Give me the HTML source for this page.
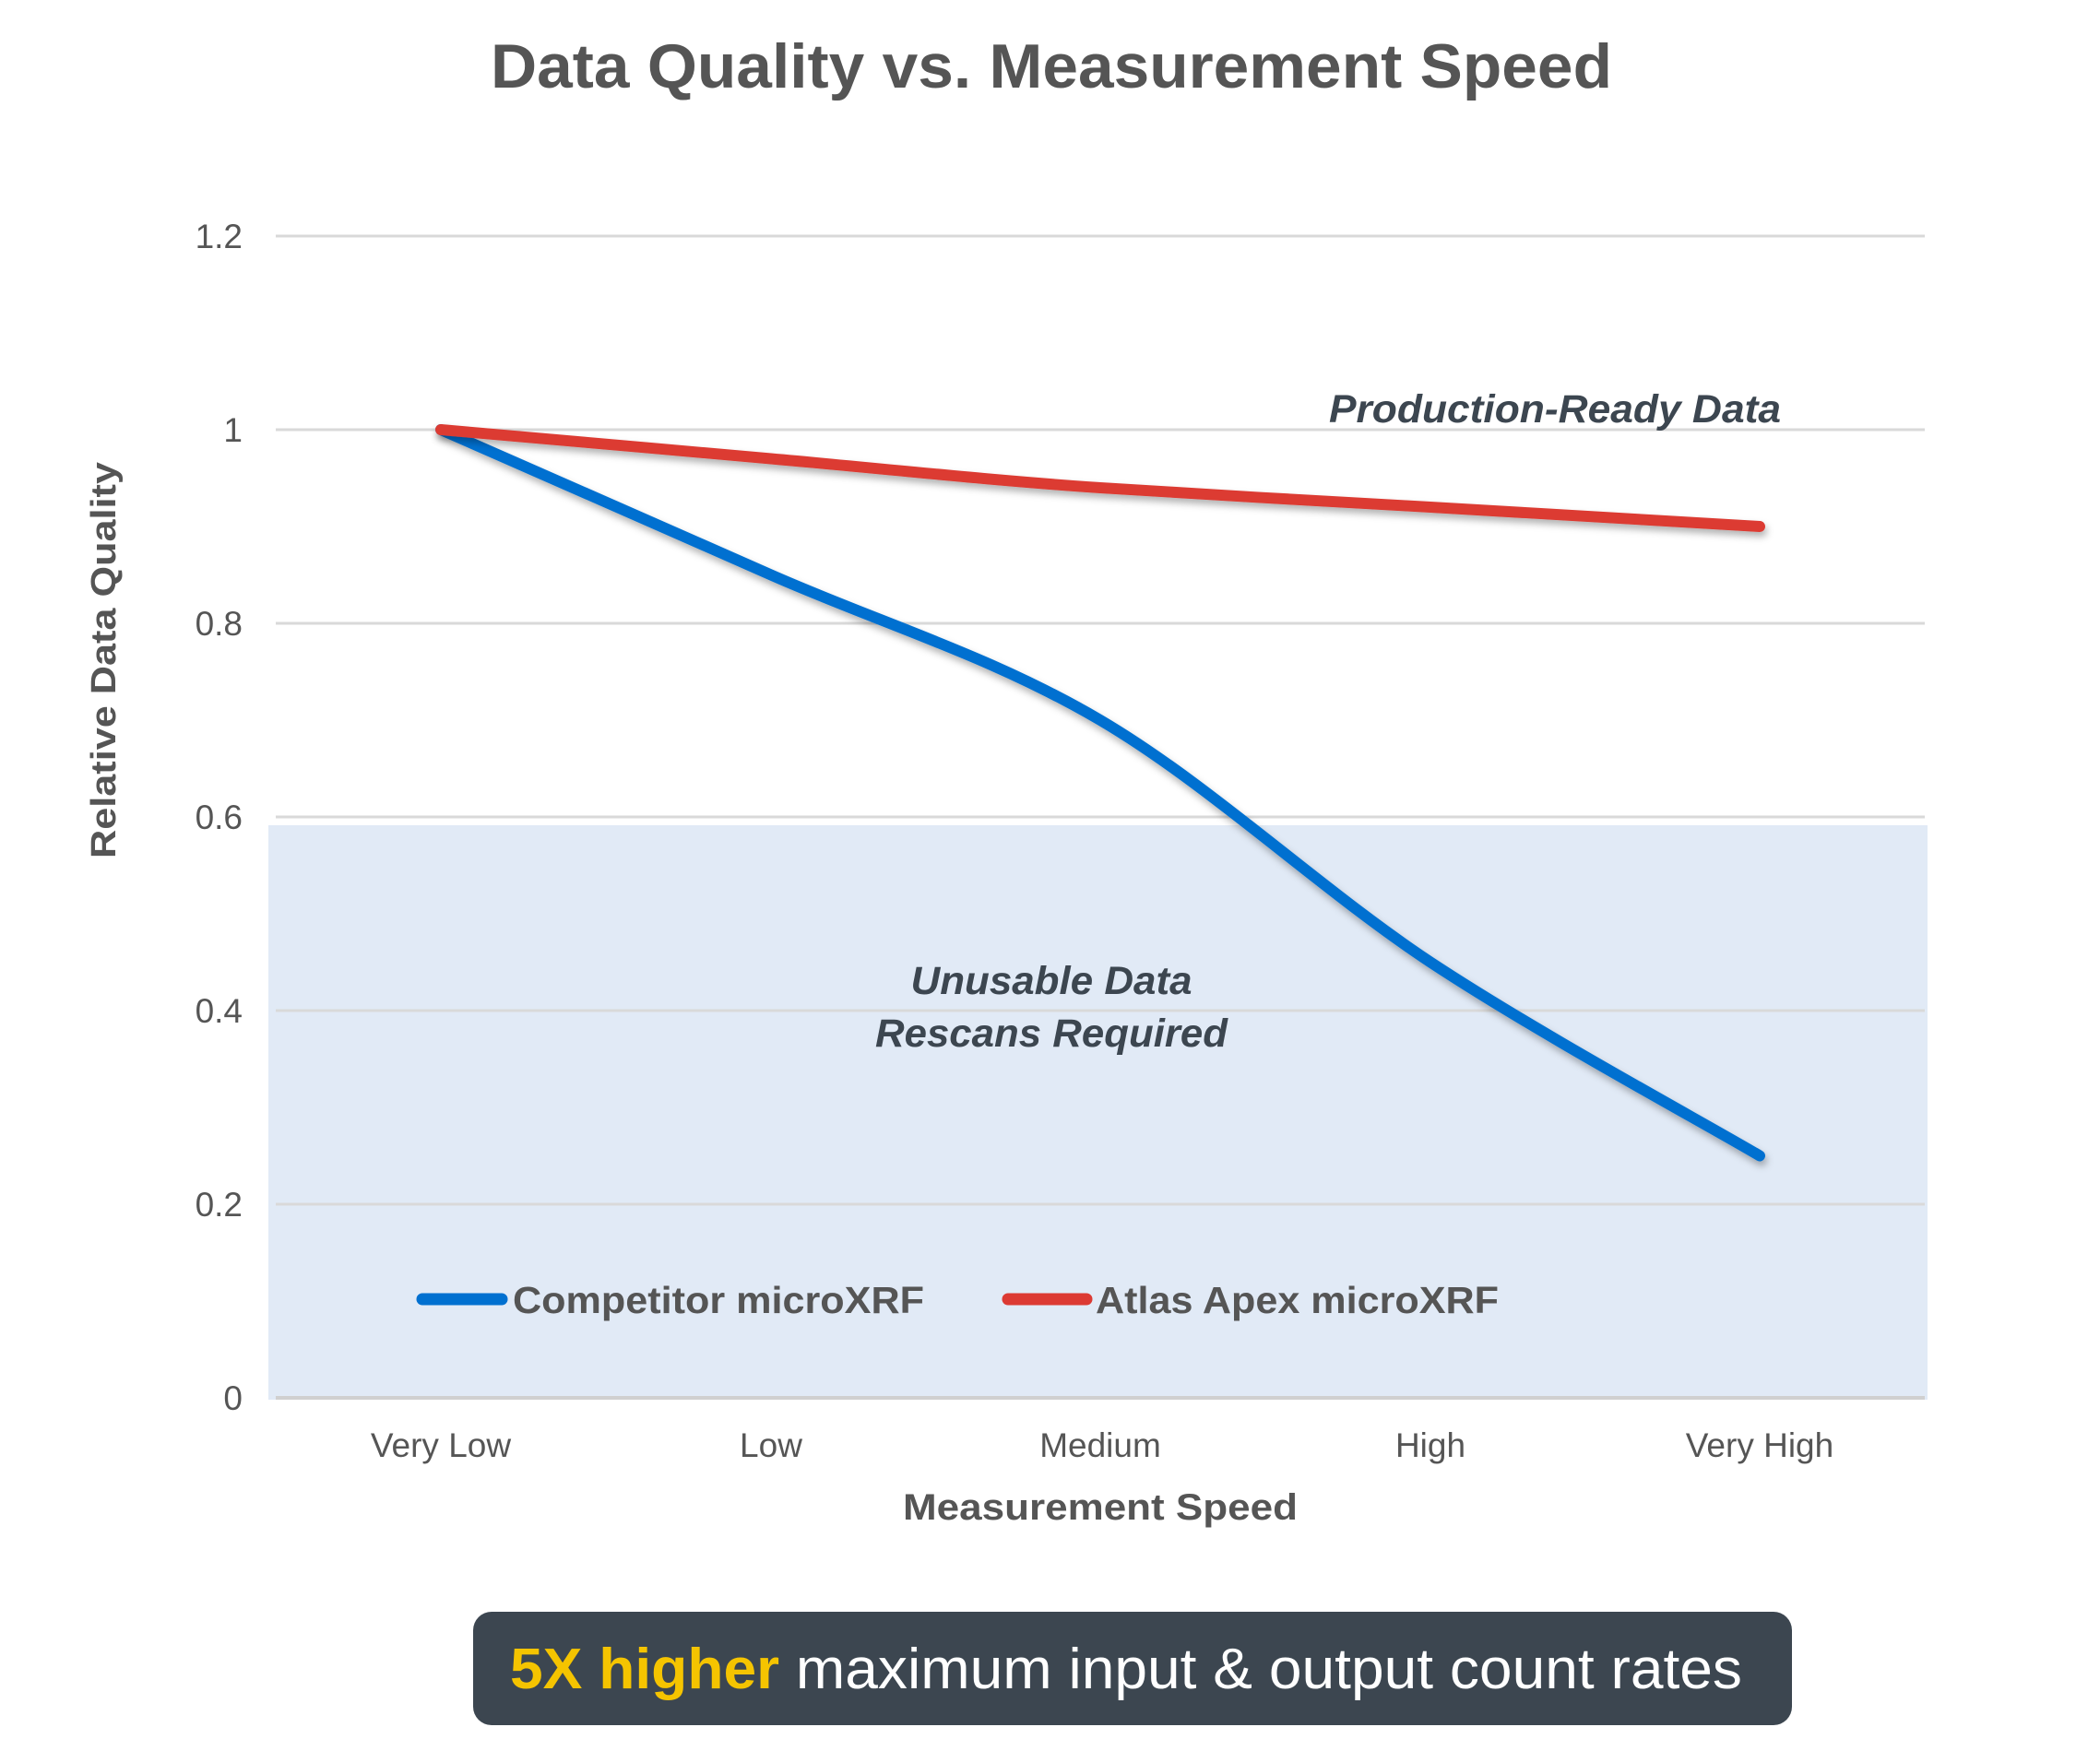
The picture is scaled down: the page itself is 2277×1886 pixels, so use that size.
<!DOCTYPE html>
<html><head><meta charset="utf-8"><style>
html,body{margin:0;padding:0;background:#fff;}
svg{display:block;font-family:"Liberation Sans",Arial,sans-serif;}
</style></head><body>
<svg width="2277" height="1886" viewBox="0 0 2277 1886" xmlns="http://www.w3.org/2000/svg">
<defs>
<filter id="sh" x="-10%" y="-10%" width="120%" height="130%">
<feDropShadow dx="2" dy="5" stdDeviation="4" flood-color="#000" flood-opacity="0.3"/>
</filter>
</defs>
<text x="1140" y="95" text-anchor="middle" font-size="68" font-weight="bold" fill="#555" textLength="1216" lengthAdjust="spacingAndGlyphs">Data Quality vs. Measurement Speed</text>
<rect x="291" y="895" width="1799" height="623" fill="#e1eaf6"/>
<g stroke="#d9d9d9" stroke-width="3">
<line x1="299" y1="256" x2="2087" y2="256"/>
<line x1="299" y1="466" x2="2087" y2="466"/>
<line x1="299" y1="676" x2="2087" y2="676"/>
<line x1="299" y1="886" x2="2087" y2="886"/>
<line x1="299" y1="1096" x2="2087" y2="1096"/>
<line x1="299" y1="1306" x2="2087" y2="1306"/>
</g>
<line x1="299" y1="1516" x2="2087" y2="1516" stroke="#d0d0d0" stroke-width="4"/>
<g font-size="37" fill="#555" text-anchor="end">
<text x="263" y="269">1.2</text>
<text x="263" y="479">1</text>
<text x="263" y="689">0.8</text>
<text x="263" y="899">0.6</text>
<text x="263" y="1109">0.4</text>
<text x="263" y="1319">0.2</text>
<text x="263" y="1529">0</text>
</g>
<g font-size="37" fill="#555" text-anchor="middle">
<text x="478" y="1580">Very Low</text>
<text x="836" y="1580">Low</text>
<text x="1193" y="1580">Medium</text>
<text x="1551" y="1580">High</text>
<text x="1908" y="1580">Very High</text>
</g>
<text x="1193" y="1648" text-anchor="middle" font-size="40" font-weight="bold" fill="#555" textLength="428" lengthAdjust="spacingAndGlyphs">Measurement Speed</text>
<text transform="translate(125,716) rotate(-90)" text-anchor="middle" font-size="38" font-weight="bold" fill="#555" textLength="430" lengthAdjust="spacingAndGlyphs">Relative Data Quality</text>
<path filter="url(#sh)" d="M478,466 C538,492 717,571 836,623.5 C955,676 1074,711 1193,781 C1312,851 1432,964.75 1551,1043.5 C1670,1122 1849,1218.5 1908,1253.5" fill="none" stroke="#0070d0" stroke-width="12" stroke-linecap="round"/>
<path filter="url(#sh)" d="M478,466 C538,471 717,487 836,497.5 C955,508 1074,521 1193,529 C1312,537 1432,543 1551,550 C1670,557 1849,567.5 1908,571" fill="none" stroke="#dc3a33" stroke-width="12" stroke-linecap="round"/>
<text x="1931" y="458" text-anchor="end" font-size="43" font-weight="bold" font-style="italic" fill="#3c4650" textLength="490" lengthAdjust="spacingAndGlyphs">Production-Ready Data</text>
<text x="1140" y="1078" text-anchor="middle" font-size="43" font-weight="bold" font-style="italic" fill="#3c4650" textLength="305" lengthAdjust="spacingAndGlyphs">Unusable Data</text>
<text x="1140" y="1135" text-anchor="middle" font-size="43" font-weight="bold" font-style="italic" fill="#3c4650" textLength="382" lengthAdjust="spacingAndGlyphs">Rescans Required</text>
<line x1="458" y1="1409" x2="544" y2="1409" stroke="#0070d0" stroke-width="13" stroke-linecap="round"/>
<text x="556" y="1424" font-size="41" font-weight="bold" fill="#555" textLength="446" lengthAdjust="spacingAndGlyphs">Competitor microXRF</text>
<line x1="1093" y1="1409" x2="1178" y2="1409" stroke="#dc3a33" stroke-width="13" stroke-linecap="round"/>
<text x="1188" y="1424" font-size="41" font-weight="bold" fill="#555" textLength="437" lengthAdjust="spacingAndGlyphs">Atlas Apex microXRF</text>
<rect x="513" y="1748" width="1430" height="123" rx="20" fill="#3c4650"/>
<text x="553" y="1831" font-size="62" fill="#fff" textLength="1336" lengthAdjust="spacingAndGlyphs"><tspan fill="#f5c400" font-weight="bold">5X higher</tspan> maximum input &amp; output count rates</text>
</svg>
</body></html>
